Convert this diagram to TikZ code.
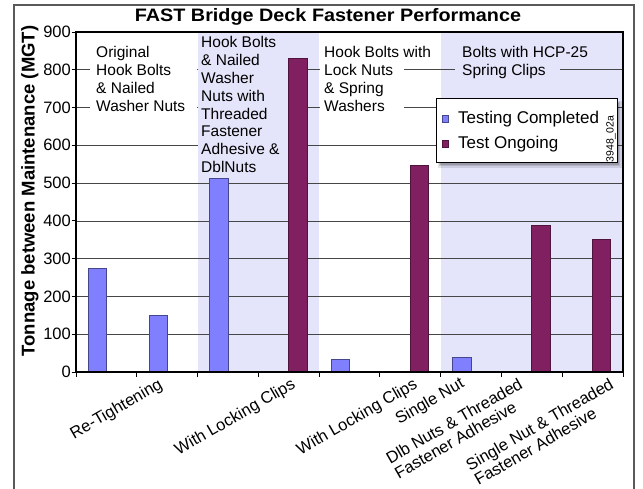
\documentclass[tikz,border=0pt]{standalone}
\usepackage{fontspec}
\usepackage{graphicx}
\setmainfont{Liberation Sans}
\definecolor{barblue}{RGB}{128,128,255}
\definecolor{barblueedge}{RGB}{70,70,140}
\definecolor{barpurple}{RGB}{128,32,96}
\definecolor{barpurpleedge}{RGB}{80,20,60}
\definecolor{band}{RGB}{228,228,250}
\definecolor{gridc}{RGB}{70,70,70}
\definecolor{framec}{RGB}{90,90,90}
\newcommand{\catrot}[1]{\rotatebox{30}{\begin{tabular}{@{}l@{}}#1\end{tabular}}}
\begin{document}
\begin{tikzpicture}[x=1pt,y=-1pt,
  bluebar/.style={fill=barblue,draw=barblueedge,line width=0.8pt},
  purplebar/.style={fill=barpurple,draw=barpurpleedge,line width=0.8pt},
  gridline/.style={draw=gridc,line width=0.7pt},
  lbl/.style={anchor=north west,inner sep=0pt,align=left,font=\fontsize{15.5}{17.8}\selectfont},
  ticklbl/.style={anchor=east,inner sep=0pt,font=\fontsize{16.5}{18}\selectfont},
  catlbl/.style={anchor=north east,inner sep=0pt,font=\fontsize{16.5}{18}\selectfont\renewcommand{\arraystretch}{0.95}},
  legtxt/.style={anchor=base west,inner sep=0pt,font=\fontsize{17}{19}\selectfont},
]
\useasboundingbox (0,0) rectangle (643,489);
\fill[white] (0,0) rectangle (643,489);
% outer frame
\draw[framec,line width=1.5pt] (14,500) -- (14,5) -- (634,5) -- (634,500);
% bands
\fill[band] (197.56,32) rectangle (319.11,372);
\fill[band] (440.67,32) rectangle (623,372);
% gridlines
\foreach \yy in {334.2,296.4,258.7,220.9,183.1,145.3,107.6,69.8}
  \draw[gridline] (76,\yy) -- (623,\yy);
% patches behind group labels
\fill[white] (90,40) rectangle (197,116);
\fill[band] (198,35) rectangle (288,176);
\fill[white] (320,40) rectangle (404,116);
\fill[band] (455,40) rectangle (560,82);
% bars
\draw[bluebar] (88.2,372) rectangle (106.4,268.1);
\draw[bluebar] (148.9,372) rectangle (167.2,315.3);
\draw[bluebar] (209.7,372) rectangle (228.0,178.6);
\draw[purplebar] (288.7,372) rectangle (306.9,58.4);
\draw[bluebar] (331.3,372) rectangle (349.5,359.5);
\draw[purplebar] (410.3,372) rectangle (428.5,165);
\draw[bluebar] (452.8,372) rectangle (471.1,357.6);
\draw[purplebar] (531.8,372) rectangle (550.0,225);
\draw[purplebar] (592.6,372) rectangle (610.8,239);
% plot frame
\draw[black,line width=1.2pt] (76,32) rectangle (623,372);
% y ticks and labels
\foreach \v/\yy in {0/372,100/334.2,200/296.4,300/258.7,400/220.9,500/183.1,600/145.3,700/107.6,800/69.8,900/32}{
  \draw[black,line width=0.8pt] (71.5,\yy) -- (76,\yy);
  \node[ticklbl] (tick\v) at (71,\yy) {\v};
}
% x ticks
\foreach \xx in {76,136.78,197.56,258.33,319.11,379.89,440.67,501.44,562.22,623}
  \draw[black,line width=0.8pt] (\xx,372) -- (\xx,377);
% title
\node[font=\bfseries\fontsize{18}{20}\selectfont,xscale=1.1,inner sep=0pt] (title) at (328,17) {FAST Bridge Deck Fastener Performance};
% y axis title
\node[font=\bfseries\fontsize{18.5}{20}\selectfont,rotate=90,inner sep=0pt] (ytitle) at (30,191) {Tonnage between Maintenance (MGT)};
% group labels
\node[lbl] (g1) at (96,46.5) {Original\\Hook Bolts\\\& Nailed\\Washer Nuts};
\node[lbl] (g2) at (201,36.5) {Hook Bolts\\\& Nailed\\Washer\\Nuts with\\Threaded\\Fastener\\Adhesive \&\\DblNuts};
\node[lbl] (g3) at (324,46.5) {Hook Bolts with\\Lock Nuts\\\& Spring\\Washers};
\node[lbl] (g4) at (462,46.5) {Bolts with HCP-25\\Spring Clips};
% category labels
\node[catlbl] (c2) at (166,377) {\catrot{Re-Tightening}};
\node[catlbl] (c4) at (299,377) {\catrot{With Locking Clips}};
\node[catlbl] (c6) at (421,377) {\catrot{With Locking Clips}};
\node[catlbl] (c7) at (468,376) {\catrot{Single Nut}};
\node[catlbl] (c8) at (535,377) {\catrot{Dlb Nuts \& Threaded\\Fastener Adhesive}};
\node[catlbl] (c9) at (626,377) {\catrot{Single Nut \& Threaded\\Fastener Adhesive}};
% legend
\fill[black,opacity=0.10] (438,101) rectangle (622,168);
\fill[black,opacity=0.12] (439,102) rectangle (620,166);
\fill[black,opacity=0.15] (440,103) rectangle (619,165);
\draw[black,fill=white,line width=1pt] (436,99) rectangle (617,163);
\draw[barblueedge,fill=barblue,line width=0.6pt] (441.8,115) rectangle (448,122);
\draw[barpurpleedge,fill=barpurple,line width=0.6pt] (441.8,140.5) rectangle (448,147.5);
\node[legtxt] (l1) at (458,123.5) {Testing Completed};
\node[legtxt] (l2) at (458,148.5) {Test Ongoing};
\node[font=\fontsize{10.5}{11}\selectfont,rotate=90,inner sep=0pt] (code) at (611,139) {3948\_02a};
\end{tikzpicture}
\end{document}
